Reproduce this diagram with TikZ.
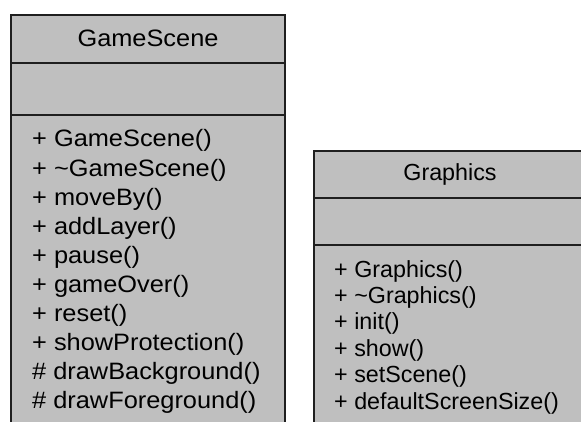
\documentclass[tikz,border=0pt]{standalone}
\usepackage{xcolor}
\usepackage{fontspec}
\setmainfont{Liberation Sans}
\newfontfamily\gamefont[FakeStretch=1.07]{Liberation Sans}
\usepackage{tikz}
\usetikzlibrary{positioning}
\definecolor{umlgray}{gray}{0.75}
\definecolor{umlline}{gray}{0.12}

\begin{document}
\begin{tikzpicture}[x=1pt, y=-1pt,
    classbox/.style={draw=umlline, line width=1.8pt, fill=umlgray},
    divider/.style={draw=umlline, line width=1.6pt},
    gametext/.style={font=\gamefont\fontsize{23.7}{29}\selectfont, inner sep=0pt},
    gfxtext/.style={font=\fontsize{23.3}{26}\selectfont, inner sep=0pt},
    title/.style={anchor=base},
    member/.style={anchor=base west}
]
\useasboundingbox (0,0) rectangle (581,422);
\clip (0,0) rectangle (581,422);

% GameScene class
\draw[classbox] (11,15) rectangle (285,440);
\draw[divider] (11,63) -- (285,63);
\draw[divider] (11,115) -- (285,115);
\node[gametext, title] (gametitle) at (148,47) {GameScene};
\foreach \m [count=\i from 0] in {{+ GameScene()}, {+ \textasciitilde GameScene()},
    {+ moveBy()}, {+ addLayer()}, {+ pause()}, {+ gameOver()}, {+ reset()},
    {+ showProtection()}, {\# drawBackground()}, {\# drawForeground()}}
  \node[gametext, member] (gm\i) at ({32},{147+29.1*\i}) {\m};

% Graphics class
\draw[classbox] (314,151) rectangle (586,440);
\draw[divider] (314,198) -- (586,198);
\draw[divider] (314,245) -- (586,245);
\node[gfxtext, title] (gfxtitle) at (450,181) {Graphics};
\foreach \m [count=\i from 0] in {{+ Graphics()}, {+ \textasciitilde Graphics()},
    {+ init()}, {+ show()}, {+ setScene()}, {+ defaultScreenSize()}}
  \node[gfxtext, member] (gx\i) at ({334},{277+26.4*\i}) {\m};
\end{tikzpicture}
\end{document}
